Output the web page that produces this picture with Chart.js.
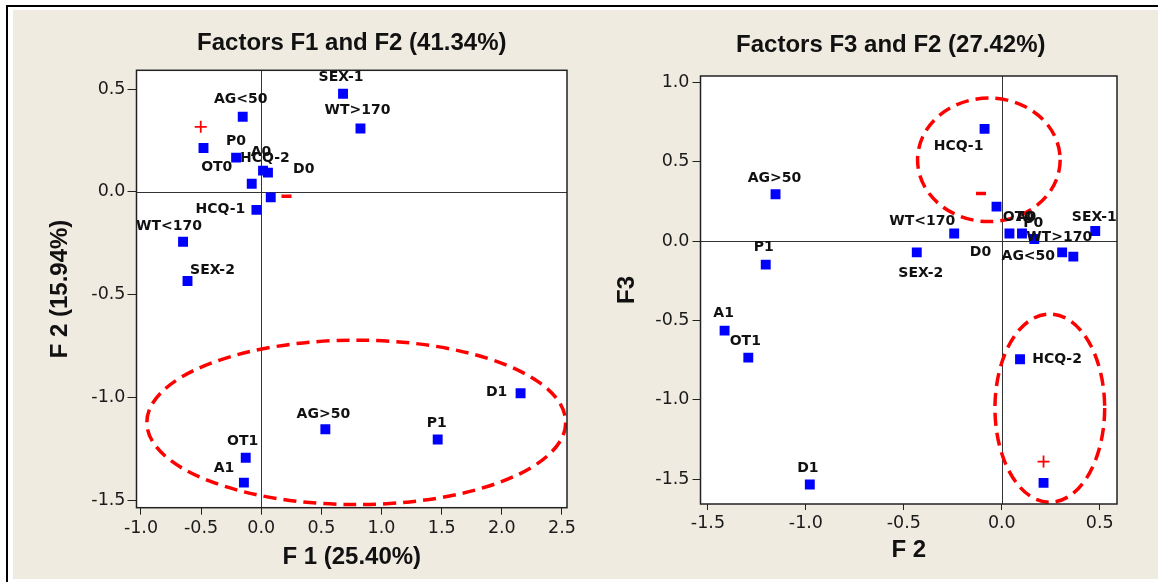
<!DOCTYPE html>
<html>
<head>
<meta charset="utf-8">
<script src="https://cdn.jsdelivr.net/npm/chart.js@4.4.1/dist/chart.umd.min.js"></script>
<style>
  html, body { margin: 0; padding: 0; background: #ffffff; width: 1158px; height: 582px; overflow: hidden; }
  #frame { position: absolute; left: 6px; top: 5px; width: 1170px; height: 600px; border-left: 2px solid #000; border-top: 2px solid #000; }
  #panel { position: absolute; left: 13px; top: 10px; width: 1145px; height: 569px; background: #EFEBE1; }
  canvas { position: absolute; top: 10px; }
  #left { left: 13px; }
  #right { left: 580px; }
</style>
</head>
<body>
<div id="frame"></div>
<div id="panel"></div>
<canvas id="left" width="567" height="569"></canvas>
<canvas id="right" width="578" height="569"></canvas>
<script>
// Category coordinates on the first three factors
const categories = ['SEX-1', 'WT>170', 'AG<50', '', 'P0', 'A0', 'HCQ-2', 'OT0', 'D0', 'HCQ-1',
                    'WT<170', 'SEX-2', 'D1', 'AG>50', 'P1', 'OT1', 'A1'];
const f1 = [0.680, 0.825, -0.154, -0.480, -0.209, 0.015, 0.056, -0.079, 0.079, -0.040,
            -0.650, -0.613, 2.156, 0.533, 1.467, -0.129, -0.144];
const f2 = [0.477, 0.308, 0.365, 0.213, 0.166, 0.103, 0.093, 0.039, -0.027, -0.088,
            -0.243, -0.434, -0.980, -1.155, -1.205, -1.294, -1.415];
const f3 = [0.064, -0.071, -0.098, -1.523, 0.013, 0.048, -0.744, 0.048, 0.217, 0.707,
            0.048, -0.071, -1.533, 0.295, -0.148, -0.734, -0.564];

// Red sign marks (+ / −) in each plane
const signStyles = ['cross', 'line'];
const signF1 = [-0.503, 0.210];
const signF2 = [0.316, -0.022];
const signF2b = [0.213, -0.106];
const signF3 = [-1.389, 0.300];

// Grouping ellipses: [centre x, centre y, radius x, radius y] in data units
const groupsF1F2 = [[0.79, -1.122, 1.741, 0.400]];
const groupsF2F3 = [[-0.066, 0.512, 0.364, 0.389], [0.245, -1.052, 0.280, 0.593]];

// Tick values
const ticksF1 = [-1.0, -0.5, 0.0, 0.5, 1.0, 1.5, 2.0, 2.5];
const ticksF2left = [-1.5, -1.0, -0.5, 0.0, 0.5];
const ticksF2bottom = [-1.5, -1.0, -0.5, 0.0, 0.5];
const ticksF3 = [-1.5, -1.0, -0.5, 0.0, 0.5, 1.0];

// Label placement around each square (pixels)
const labelOffsetsLeft = {
  'SEX-1': [-2, -16], 'WT>170': [-3, -18], 'AG<50': [-2, -17], 'P0': [0, -16], 'A0': [-2, -18],
  'HCQ-2': [-3, -14], 'OT0': [-35, -16], 'D0': [33, -28], 'HCQ-1': [-36, -1], 'WT<170': [-14, -15],
  'SEX-2': [25, -11], 'D1': [-24, -1], 'AG>50': [-2, -15], 'P1': [-1, -16], 'OT1': [-3, -16], 'A1': [-20, -14]
};
const labelOffsetsRight = {
  'HCQ-1': [-26, 17], 'AG>50': [-1, -16], 'P1': [-2, -17], 'WT<170': [-32, -12], 'SEX-2': [4, 21],
  'D0': [-16, 46], 'OT0': [9, -16], 'A0': [4, -16], 'P0': [-1, -16], 'WT>170': [-3, -15],
  'AG<50': [-45, 0], 'SEX-1': [-1, -14], 'A1': [-1, -17], 'OT1': [-3, -16], 'D1': [-2, -16], 'HCQ-2': [37, 0]
};

const TICK_FONT = { family: '"DejaVu Sans", sans-serif', size: 17.5 };
const AXIS_FONT = { family: '"Liberation Sans", Arial, sans-serif', size: 24, weight: 'bold' };
const INK = '#1a1a1a';

// White plot area, zero reference lines, grouping ellipses, labels, frame and heading
const mapPlugin = {
  id: 'mapPlugin',
  beforeDraw(chart) {
    const { ctx, chartArea: a } = chart;
    ctx.save();
    ctx.fillStyle = '#ffffff';
    ctx.fillRect(a.left, a.top, a.right - a.left, a.bottom - a.top);
    ctx.restore();
  },
  beforeDatasetsDraw(chart) {
    const { ctx, chartArea: a, scales } = chart;
    const x0 = scales.x.getPixelForValue(0);
    const y0 = scales.y.getPixelForValue(0);
    ctx.save();
    ctx.strokeStyle = '#333';
    ctx.lineWidth = 1;
    ctx.beginPath();
    ctx.moveTo(Math.round(x0) + 0.5, a.top);
    ctx.lineTo(Math.round(x0) + 0.5, a.bottom);
    ctx.moveTo(a.left, Math.round(y0) + 0.5);
    ctx.lineTo(a.right, Math.round(y0) + 0.5);
    ctx.stroke();
    ctx.restore();
  },
  afterDatasetsDraw(chart, args, opts) {
    const { ctx, chartArea: a, scales } = chart;
    ctx.save();
    ctx.beginPath();
    ctx.rect(a.left, a.top, a.right - a.left, a.bottom - a.top);
    ctx.clip();

    // dashed grouping ellipses
    ctx.strokeStyle = '#ff0000';
    ctx.lineWidth = 3.5;
    ctx.setLineDash([13, 7]);
    opts.groups.forEach(([cx, cy, rx, ry]) => {
      const px = scales.x.getPixelForValue(cx);
      const py = scales.y.getPixelForValue(cy);
      const prx = Math.abs(scales.x.getPixelForValue(cx + rx) - px);
      const pry = Math.abs(scales.y.getPixelForValue(cy + ry) - py);
      ctx.beginPath();
      ctx.ellipse(px, py, prx, pry, 0, 0, Math.PI * 2);
      ctx.stroke();
    });
    ctx.setLineDash([]);

    // category labels
    ctx.font = 'bold 14px "DejaVu Sans", sans-serif';
    ctx.fillStyle = '#111';
    ctx.textAlign = 'center';
    ctx.textBaseline = 'middle';
    chart.getDatasetMeta(0).data.forEach((el, i) => {
      const name = categories[i];
      if (!name) return;
      const off = opts.offsets[name] || [0, -16];
      ctx.fillText(name, el.x + off[0], el.y + off[1]);
    });
    ctx.restore();

    // plot frame
    ctx.save();
    ctx.strokeStyle = '#222';
    ctx.lineWidth = 1.5;
    ctx.strokeRect(a.left, a.top, a.right - a.left, a.bottom - a.top);
    ctx.restore();
  },
  afterDraw(chart, args, opts) {
    const { ctx, chartArea: a } = chart;
    ctx.save();
    ctx.font = 'bold 24px "Liberation Sans", Arial, sans-serif';
    ctx.fillStyle = '#111';
    ctx.textAlign = 'center';
    ctx.textBaseline = 'middle';
    ctx.fillText(opts.heading, (a.left + a.right) / 2 + opts.headingShift, opts.headingY);
    ctx.restore();
  }
};

function axis(min, max, ticks, title, horizontal, fixed, tickLen, tickPad, titlePad) {
  return {
    type: 'linear',
    min: min,
    max: max,
    afterBuildTicks: s => { s.ticks = ticks.map(v => ({ value: v })); },
    afterFit: s => { if (horizontal) { s.height = fixed; } else { s.width = fixed; } },
    ticks: {
      callback: v => Number(v).toFixed(1),
      font: TICK_FONT,
      color: INK,
      padding: tickPad,
      maxRotation: 0,
      autoSkip: false
    },
    grid: { drawOnChartArea: false, drawTicks: true, tickLength: tickLen, color: '#222', lineWidth: 1 },
    border: { display: false },
    title: { display: true, text: title, font: AXIS_FONT, color: '#111', padding: titlePad }
  };
}

function makeChart(id, xs, ys, sx, sy, groups, offsets, heading, headingShift, headingY,
                   layoutPad, scaleX, scaleY) {
  return new Chart(document.getElementById(id), {
    type: 'scatter',
    data: {
      datasets: [
        {
          data: xs.map((x, i) => ({ x: x, y: ys[i] })),
          pointStyle: 'rect',
          pointRadius: 7,
          pointHoverRadius: 7,
          pointBorderWidth: 0,
          backgroundColor: '#0000ff',
          borderColor: '#0000ff'
        },
        {
          data: sx.map((x, i) => ({ x: x, y: sy[i] })),
          pointStyle: signStyles,
          pointRadius: [6, 5],
          pointBorderWidth: [1.8, 3.5],
          backgroundColor: '#ff0000',
          borderColor: '#ff0000'
        }
      ]
    },
    options: {
      responsive: false,
      animation: false,
      events: [],
      layout: { padding: layoutPad },
      plugins: {
        legend: { display: false },
        tooltip: { enabled: false },
        mapPlugin: { groups: groups, offsets: offsets, heading: heading, headingShift: headingShift, headingY: headingY }
      },
      scales: { x: scaleX, y: scaleY }
    },
    plugins: [mapPlugin]
  });
}

makeChart('left', f1, f2, signF1, signF2, groupsF1F2, labelOffsetsLeft,
  'Factors F1 and F2 (41.34%)', 0, 33.3,
  { left: 0, right: 13, top: 60.3, bottom: 0 },
  axis(-1.037, 2.542, ticksF1, 'F 1 (25.40%)', true, 71.3, 7, 3, { top: 0, bottom: 7.3 }),
  axis(-1.537, 0.591, ticksF2left, 'F 2 (15.94%)', false, 123.5, 9, 2, { top: 32.7, bottom: 0 }));

makeChart('right', f2, f3, signF2b, signF3, groupsF2F3, labelOffsetsRight,
  'Factors F3 and F2 (27.42%)', -18, 35.7,
  { left: 0, right: 41, top: 66, bottom: 0 },
  axis(-1.538, 0.588, ticksF2bottom, 'F 2', true, 75, 6, 3, { top: 0, bottom: 13.9 }),
  axis(-1.656, 1.040, ticksF3, 'F3', false, 120.5, 8, 3, { top: 32.6, bottom: 0 }));
</script>
</body>
</html>
